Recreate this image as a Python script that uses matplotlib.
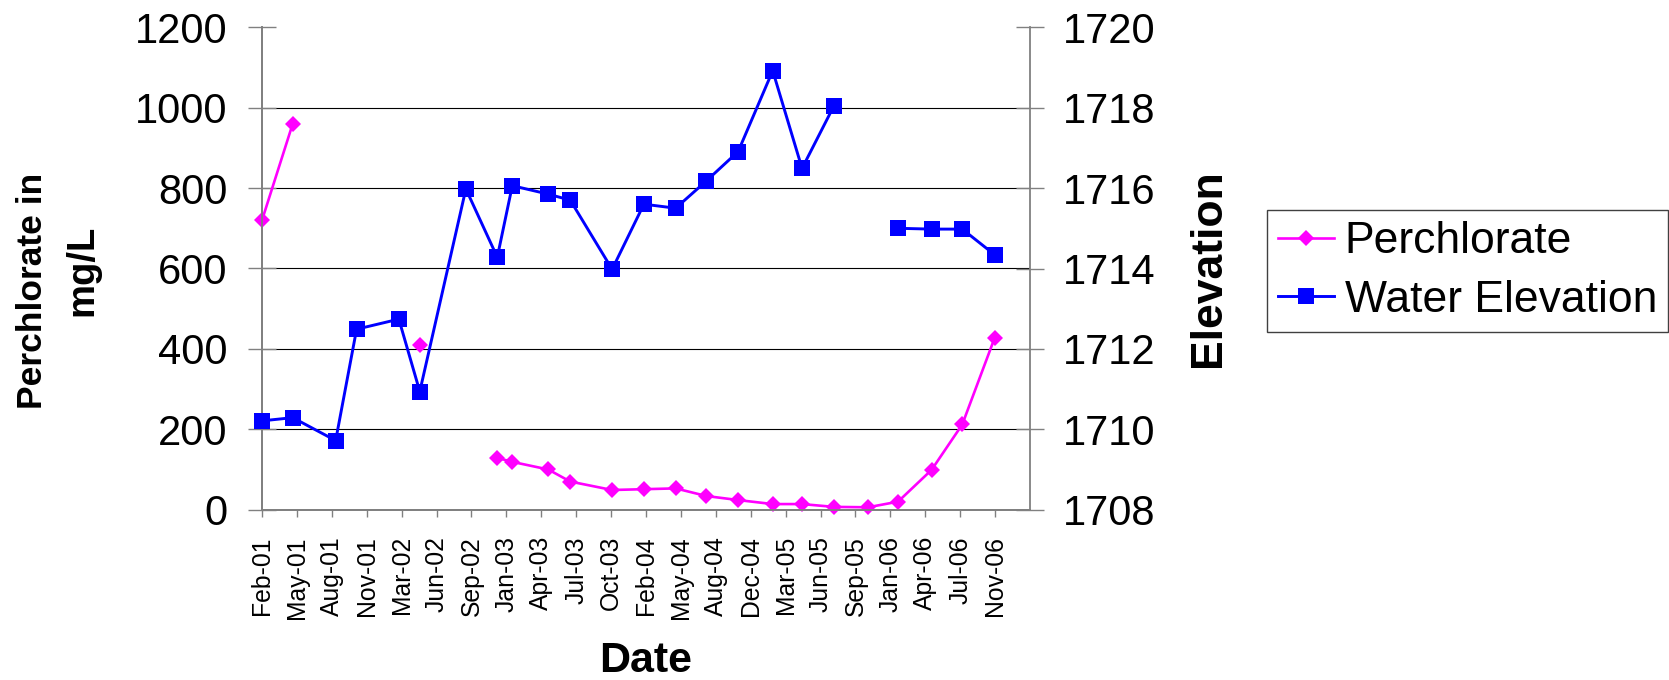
import numpy as np
import matplotlib
matplotlib.use("Agg")
import matplotlib.pyplot as plt

plt.rcParams['font.family'] = ['Liberation Sans', 'DejaVu Sans']

# ---- data ----
dates = ["2001-02-01", "2001-04-30", "2001-08-31", "2001-10-30", "2002-02-28",
         "2002-04-29", "2002-09-08", "2002-12-07", "2003-01-19", "2003-05-02",
         "2003-07-04", "2003-11-01", "2004-01-31", "2004-05-01", "2004-07-28",
         "2004-10-27", "2005-02-03", "2005-04-28", "2005-07-28", "2005-11-03",
         "2006-01-28", "2006-05-04", "2006-07-31", "2006-11-01"]
perchlorate = [720, 960, np.nan, np.nan, np.nan,
               409, np.nan, 129, 119, 100,
               70, 49, 51, 53, 34,
               24, 14, 14, 7, 6,
               20, 99, 212, 428]
water_elev = [1710.21, 1710.29, 1709.72, 1712.49, 1712.74,
              1710.94, 1715.98, 1714.28, 1716.06, 1715.85,
              1715.70, 1713.98, 1715.60, 1715.50, 1716.18,
              1716.91, 1718.92, 1716.49, 1718.04, np.nan,
              1715.00, 1714.98, 1714.98, 1714.34]
tick_labels = ["Feb-01", "May-01", "Aug-01", "Nov-01", "Mar-02", "Jun-02",
               "Sep-02", "Jan-03", "Apr-03", "Jul-03", "Oct-03", "Feb-04",
               "May-04", "Aug-04", "Dec-04", "Mar-05", "Jun-05", "Sep-05",
               "Jan-06", "Apr-06", "Jul-06", "Nov-06"]
axis_start = "2001-02-01"
tick_step_days = 100
axis_span_days = 2200

x = np.array(dates, dtype="datetime64[D]")
start = np.datetime64(axis_start)
tick_dates = start + np.arange(len(tick_labels)) * np.timedelta64(tick_step_days, "D")

W, H = 1669, 680
fig = plt.figure(figsize=(W / 100, H / 100), dpi=100)
left, right, top, bottom = 262 / W, 1030 / W, 27.3 / H, 509.7 / H
ax = fig.add_axes([left, 1 - bottom, right - left, bottom - top])
ax2 = ax.twinx()

pink = "#FF00FF"
blue = "#0000FF"
axcol = "#808080"

l1, = ax.plot(x, perchlorate, color=pink, lw=1.9, marker="D", markersize=8.3,
              markeredgewidth=0, label="Perchlorate", zorder=3, clip_on=False)
l2, = ax2.plot(x, water_elev, color=blue, lw=2.1, marker="s", markersize=11,
               markeredgewidth=0, label="Water Elevation", zorder=3, clip_on=False)

ax.set_xlim(start, start + np.timedelta64(axis_span_days, "D"))
ax.set_xticks(tick_dates)
ax.set_xticklabels(tick_labels, rotation=90, fontsize=17.8)
ax.set_ylim(0, 1200)
ax.set_yticks(np.arange(0, 1201, 200))
ax2.set_ylim(1708, 1720)
ax2.set_yticks(np.arange(1708, 1721, 2))

ax.tick_params(axis="y", labelsize=30, direction="inout", length=19.5, width=1,
               color=axcol, pad=15)
ax.tick_params(axis="x", direction="out", length=5, width=1, color=axcol, pad=14)
ax2.tick_params(axis="y", labelsize=30, direction="inout", length=19.5, width=1,
                color=axcol, pad=14)

ax.yaxis.grid(True, color="black", lw=0.8)
ax.get_ygridlines()[-1].set_visible(False)
ax.set_axisbelow(True)

for a in (ax, ax2):
    a.spines["top"].set_visible(False)
    for s in ("left", "right", "bottom"):
        a.spines[s].set_color(axcol)
        a.spines[s].set_linewidth(1.3)
ax.spines["right"].set_visible(False)

# axis titles
fig.text(646 / W, 1 - 661 / H, "Date", fontsize=31, fontweight="bold",
         ha="center", va="center")
fig.text(32 / W, 1 - 291 / H, "Perchlorate in", fontsize=25.5, fontweight="bold",
         rotation=90, ha="center", va="center")
fig.text(82 / W, 1 - 270 / H, "mg/L", fontsize=27.5, fontweight="bold",
         rotation=90, ha="center", va="center")
fig.text(1208 / W, 1 - 268 / H, "Elevation", fontsize=32, fontweight="bold",
         rotation=90, ha="center", va="center")

leg = fig.legend(handles=[l1, l2], loc="center left",
                 bbox_to_anchor=(1267 / W, 1 - 271 / H), fontsize=32,
                 frameon=True, fancybox=False, framealpha=1, edgecolor="#404040",
                 handlelength=1.25, handletextpad=0.25, labelspacing=0.4,
                 borderpad=0.25, borderaxespad=0)
leg.get_frame().set_linewidth(1.0)

fig.savefig("out.png", dpi=100)
